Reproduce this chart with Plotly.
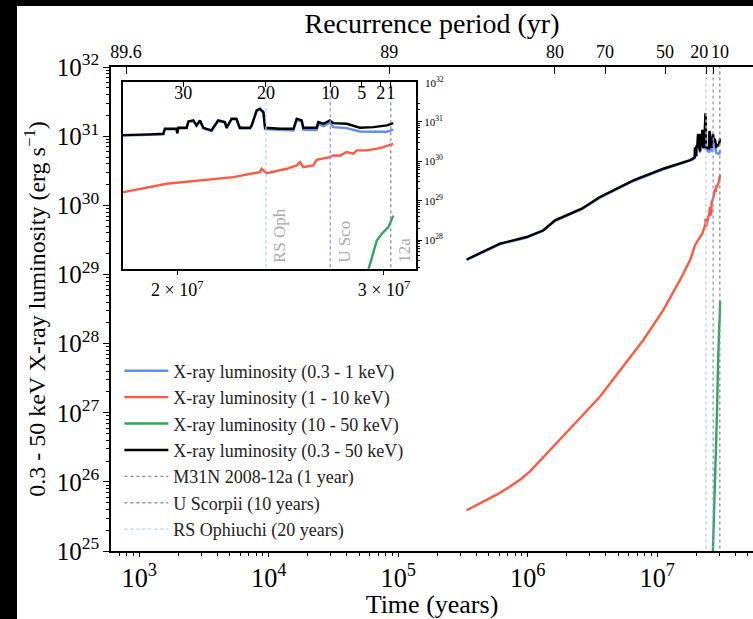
import numpy as np
import plotly.graph_objects as go

# ---------------- data ----------------
time_bw = [3.37e5, 6.10e5, 9.79e5, 1.318e6, 1.622e6, 2.606e6, 3.606e6, 6.53e6, 1.112e7, 1.687e7,
           1.800e7, 1.896e7, 1.946e7, 1.952e7, 1.997e7, 2.000e7, 2.004e7, 2.037e7, 2.044e7, 2.064e7,
           2.077e7, 2.091e7, 2.105e7, 2.139e7, 2.146e7, 2.167e7, 2.196e7, 2.203e7, 2.225e7, 2.246e7,
           2.261e7, 2.307e7, 2.314e7, 2.337e7, 2.352e7, 2.368e7, 2.376e7, 2.447e7, 2.512e7, 2.528e7,
           2.553e7, 2.561e7, 2.629e7, 2.637e7, 2.664e7, 2.698e7, 2.716e7, 2.788e7, 2.862e7, 2.938e7,
           3.018e7, 3.055e7]

lum_soft = [1.62e29, 2.75e29, 3.43e29, 4.29e29, 5.97e29, 8.78e29, 1.29e30, 2.25e30, 3.31e30, 4.26e30,
            4.40e30, 4.66e30, 4.83e30, 6.45e30, 6.45e30, 5.0e30, 6.8e30, 6.8e30, 9.9e30, 1.05e31,
            7.8e30, 1.05e31, 6.8e30, 5.8e30, 6.8e30, 1.05e31, 9.5e30, 6.8e30, 1.16e31, 1.16e31,
            6.75e30, 6.75e30, 7.75e30, 1.88e31, 2.08e31, 1.71e31, 6.5e30, 6.1e30, 6.0e30, 1.12e31,
            1.0e31, 6.3e30, 6.2e30, 8.8e30, 7.8e30, 9.5e30, 7.3e30, 6.9e30, 5.7e30, 5.6e30,
            5.6e30, 6.3e30]

lum_total = [1.65e29, 2.80e29, 3.49e29, 4.37e29, 6.08e29, 8.95e29, 1.32e30, 2.30e30, 3.39e30, 4.37e30,
             4.52e30, 4.80e30, 4.98e30, 6.67e30, 6.67e30, 5.2e30, 7.06e30, 7.06e30, 1.023e31, 1.086e31,
             8.11e30, 1.086e31, 7.06e30, 6.05e30, 7.06e30, 1.086e31, 9.84e30, 7.06e30, 1.197e31, 1.197e31,
             7.06e30, 7.06e30, 8.11e30, 1.945e31, 2.148e31, 1.766e31, 7.06e30, 6.67e30, 6.67e30, 1.197e31,
             1.086e31, 7.06e30, 7.06e30, 9.84e30, 8.93e30, 1.086e31, 9.29e30, 8.93e30, 7.06e30, 7.35e30,
             8.11e30, 9.29e30]

time_med = [3.37e5, 4.4e5, 5.75e5, 7.2e5, 8.71e5, 1.040e6, 1.3e6, 1.671e6, 2.388e6, 3.614e6, 5.458e6,
            7.80e6, 1.112e7, 1.496e7, 1.800e7, 1.959e7, 2.10e7, 2.233e7, 2.352e7, 2.360e7, 2.384e7,
            2.479e7, 2.528e7, 2.545e7, 2.561e7, 2.612e7, 2.629e7, 2.698e7, 2.716e7, 2.752e7, 2.788e7,
            2.825e7, 2.843e7, 2.900e7, 2.976e7, 3.055e7]
lum_med = [3.88e25, 5.0e25, 6.53e25, 8.4e25, 1.076e26, 1.42e26, 2.2e26, 3.64e26, 7.46e26, 1.714e27, 4.65e27,
           1.127e28, 3.05e28, 8.28e28, 1.65e29, 2.68e29, 3.3e29, 3.95e29, 5.3e29, 6.44e29, 5.0e29,
           6.44e29, 7.82e29, 9.5e29, 7.1e29, 7.82e29, 1.089e30, 1.27e30, 1.40e30, 1.40e30, 1.71e30,
           1.55e30, 1.88e30, 1.88e30, 2.14e30, 2.77e30]

time_hard = [2.66e7, 2.69e7, 2.80e7, 2.86e7, 2.90e7, 2.938e7, 2.958e7, 2.987e7, 3.006e7, 3.026e7, 3.055e7]
lum_hard = [5.0e24, 1.0e25, 1.0e26, 3.98e26, 1.26e27, 4.47e27, 9.77e27, 1.445e28, 1.74e28, 2.14e28, 4.17e28]

# recurrent novae markers (time at which the recurrence period matches)
nova_names = ["M31N 2008-12a (1 year)", "U Scorpii (10 years)", "RS Ophiuchi (20 years)"]
nova_short = ["12a", "U Sco", "RS Oph"]
nova_times = [3.04e7, 2.70e7, 2.38e7]
nova_colors = ["#8c8c8c", "#8a8aff", "#b4ccff"]

# recurrence period axis (period label -> time)
rec_main_labels = ["89.6", "89", "80", "70", "50", "20&nbsp;&nbsp;&nbsp;", "&nbsp;&nbsp;&nbsp;10"]
rec_main_times = [7.9e2, 8.5e4, 1.62e6, 3.95e6, 1.147e7, 2.38e7, 2.70e7]
rec_inset_labels = ["30", "20", "10", "5", "2", "1"]
rec_inset_times = [2.024e7, 2.38e7, 2.70e7, 2.872e7, 2.981e7, 3.04e7]

inset_xticks = [2e7, 3e7]
inset_xticktext = ["2 × 10<sup>7</sup>", "3 × 10<sup>7</sup>"]
inset_ytickvals = [1e28, 1e29, 1e30, 1e31]
inset_yticktext = ["10<sup>28</sup>", "10<sup>29</sup>", "10<sup>30</sup>", "10<sup>31</sup>"]
inset_ytop_label = "10<sup>32</sup>"
inset_ytop_value = 1e32

X_RANGE = [2.7815, 7.739]
Y_RANGE = [25, 32.002]
XI_RANGE = [7.2548, 7.5044]
YI_RANGE = [27.27, 32.01]
V_LO, V_HI = 1e20, 1e35

FONT = "Liberation Serif"

series = [
    ("X-ray luminosity (0.3 - 1 keV)", time_bw, lum_soft, "#5f8fe6"),
    ("X-ray luminosity (1 - 10 keV)", time_med, lum_med, "#ff5a40"),
    ("X-ray luminosity (10 - 50 keV)", time_hard, lum_hard, "#2fa85c"),
    ("X-ray luminosity (0.3 - 50 keV)", time_bw, lum_total, "#000000"),
]

fig = go.Figure()

for xa, ya, show in [("x", "y", True), ("x3", "y3", False)]:
    for name, t, l, c in series:
        fig.add_trace(go.Scatter(x=t, y=l, mode="lines", name=name, showlegend=show,
                                 line=dict(color=c, width=2.4), xaxis=xa, yaxis=ya))
    for name, t, c in zip(nova_names, nova_times, nova_colors):
        fig.add_trace(go.Scatter(x=[t, t], y=[V_LO, V_HI], mode="lines", name=name, showlegend=show,
                                 line=dict(color=c, width=1.3, dash="dot"), xaxis=xa, yaxis=ya))

# empty traces so that the top (recurrence period) axes are drawn
fig.add_trace(go.Scatter(x=[], y=[], xaxis="x2", yaxis="y", showlegend=False, hoverinfo="skip"))
fig.add_trace(go.Scatter(x=[], y=[], xaxis="x4", yaxis="y3", showlegend=False, hoverinfo="skip"))

# annotations in the inset
for s, t in zip(nova_short, nova_times):
    fig.add_annotation(x=np.log10(t), y=0.02, xref="x3", yref="y3 domain", text=s,
                       textangle=-90, showarrow=False, xanchor="left", yanchor="bottom",
                       xshift=2, font=dict(family=FONT, size=17, color="#aaaaaa"))
# top label of the inset's right axis
fig.add_annotation(x=1, y=np.log10(inset_ytop_value), xref="x3 domain", yref="y3", text=inset_ytop_label,
                   showarrow=False, xanchor="left", yanchor="middle", xshift=7,
                   font=dict(family=FONT, size=11, color="black"))

axis_common = dict(showgrid=False, zeroline=False, tickcolor="black", color="black", tickangle=0)

H = 619
fig.update_layout(
    width=753, height=H,
    margin=dict(l=111, r=0, t=67, b=H - 551.5),
    paper_bgcolor="white", plot_bgcolor="white",
    font=dict(family=FONT, color="black"),
    showlegend=True,
    legend=dict(x=0.013, y=0.41, xanchor="left", yanchor="top", bgcolor="rgba(0,0,0,0)",
                font=dict(family=FONT, size=18, color="#222222"), itemwidth=44),
    xaxis=dict(type="log", range=X_RANGE, domain=[0, 1], anchor="y", showline=True,
               linecolor="black", linewidth=1.5,
               ticks="outside", ticklen=4, dtick=1, exponentformat="power",
               tickfont=dict(size=21, color="black"),
               minor=dict(ticks="outside", ticklen=3, tickcolor="black", dtick="D1"),
               title=dict(text="Time (years)", font=dict(size=26, color="black"), standoff=7), **axis_common),
    yaxis=dict(type="log", range=Y_RANGE, domain=[0, 1], anchor="x", showline=True,
               linecolor="black", linewidth=1.5,
               ticks="outside", ticklen=6, dtick=1, exponentformat="power",
               tickfont=dict(size=20, color="black"),
               minor=dict(ticks="outside", ticklen=3, tickcolor="black", dtick="D1"),
               title=dict(text="0.3 - 50 keV X-ray luminosity (erg s<sup>−1</sup>)",
                          font=dict(size=24, color="black"), standoff=4), **axis_common),
    xaxis2=dict(type="log", range=X_RANGE, overlaying="x", side="top", anchor="y", showline=True,
                linecolor="black", linewidth=1.5,
                tickmode="array", tickvals=rec_main_times, ticktext=rec_main_labels,
                ticks="inside", ticklen=7, tickfont=dict(size=18, color="black"),
                title=dict(text="Recurrence period (yr)", font=dict(size=28, color="black"), standoff=0),
                **axis_common),
    xaxis3=dict(type="log", range=XI_RANGE, domain=[0.0187, 0.4751], anchor="y3", showline=True,
                mirror=True, linecolor="black", linewidth=2,
                tickmode="array", tickvals=inset_xticks, ticktext=inset_xticktext,
                ticks="outside", ticklen=4, tickfont=dict(size=18, color="black"), **axis_common),
    yaxis3=dict(type="log", range=YI_RANGE, domain=[0.583, 0.969], anchor="x3", side="right",
                showline=True, mirror=True, linecolor="black", linewidth=2,
                tickmode="array", tickvals=inset_ytickvals, ticktext=inset_yticktext,
                ticks="outside", ticklen=4, tickfont=dict(size=11, color="black"),
                minor=dict(ticks="outside", ticklen=2, tickcolor="black", dtick="D1"), **axis_common),
    xaxis4=dict(type="log", range=XI_RANGE, overlaying="x3", side="top", anchor="y3",
                tickmode="array", tickvals=rec_inset_times, ticktext=rec_inset_labels,
                ticks="inside", ticklen=5, ticklabelposition="inside",
                tickfont=dict(size=18, color="black"), showline=False, **axis_common),
)

# black surround on the top and left edges of the picture
fig.add_shape(type="rect", xref="paper", yref="paper", x0=-0.3, x1=-0.1464, y0=-0.3, y1=1.3,
              fillcolor="black", line=dict(width=0), layer="below")
fig.add_shape(type="rect", xref="paper", yref="paper", x0=-0.3, x1=1.3, y0=1.1259, y1=1.3,
              fillcolor="black", line=dict(width=0), layer="below")

fig.write_html("out.html")
